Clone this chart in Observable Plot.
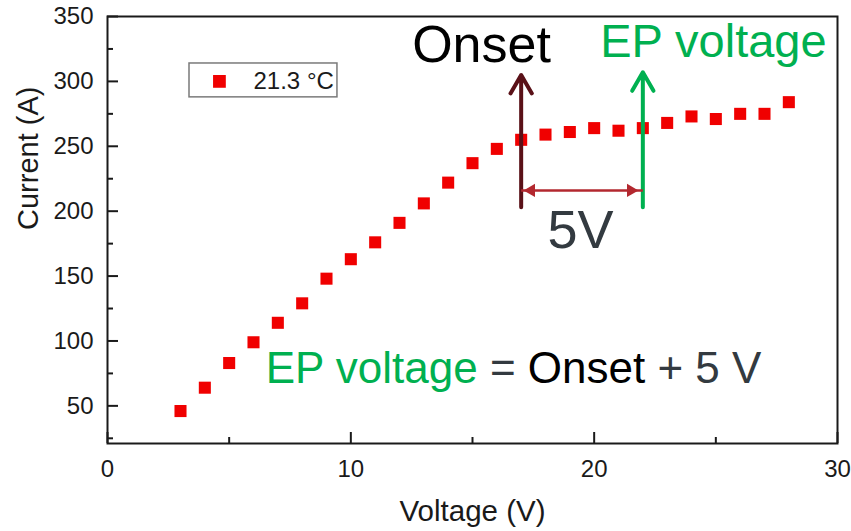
<!DOCTYPE html>
<html><head><meta charset="utf-8">
<script src="https://cdn.jsdelivr.net/npm/d3@7"></script>
<script src="https://cdn.jsdelivr.net/npm/@observablehq/plot@0.6"></script>
<style>
body{margin:0;background:#fff;}
#chart{width:851px;height:531px;}
</style></head><body><div id="chart"></div>
<script>
// ---- data ----
const voltage = [3,4,5,6,7,8,9,10,11,12,13,14,15,16,17,18,19,20,21,22,23,24,25,26,27,28];
const current = [46,64,83,99,114,129,148,163,176,191,206,222,237,248,255,259,261,264,262,264,268,273,271,275,275,284];
const seriesLabel = "21.3 °C";
const xMajorTicks = [0,10,20,30];
const xMinorTicks = [5,15,25];
const yMajorTicks = [50,100,150,200,250,300,350];
const yMinorTicks = [25,75,125,175,225,275,325];
const xLabel = "Voltage (V)";
const yLabel = "Current (A)";
const onsetVoltage = 17;
const epVoltage = 22;
const arrowFrom = [203, 203];
const arrowTo = [305, 307];
const spanLevel = 216;
const annotationText = ["Onset", "EP voltage", "5V"];
const annotationX = [15.37, 24.9, 19.44];
const annotationY = [314.6, 318.5, 172];
const equationText = "EP voltage = Onset + 5 V";
const equationParts = ["EP voltage", " = ", "Onset", " + 5 V"];
const equationPos = [6.5, 67.7];
const legendBox = [3.37, 9.45, 287.7, 313.8];
const legendMarker = [4.6, 300];
const legendTextX = 6.0;

// ---- styles ----
const FONT = "'Liberation Sans', Arial, sans-serif";
const GREEN = "#00b050", MAROON = "#5a1118", BRICK = "#b3282f", GRAY = "#333a40", INK = "#1a1a1a";

const points = voltage.map((v, i) => ({v, c: current[i]}));
const arrows = [
  {x: onsetVoltage, y1: arrowFrom[0], y2: arrowTo[0], color: MAROON},
  {x: epVoltage, y1: arrowFrom[1], y2: arrowTo[1], color: GREEN}
];
const annColors = ["#000000", GREEN, GRAY];
const annFont = [52, 47, 54];
const annotations = annotationText.map((t, i) => ({t, x: annotationX[i], y: annotationY[i], color: annColors[i], fs: annFont[i]}));

const W = 851, H = 531, mL = 107, mR = 14, mT = 16, mB = 88;
const fw = W - mL - mR, fh = H - mT - mB;

const chart = Plot.plot({
  width: W, height: H,
  marginLeft: mL, marginRight: mR, marginTop: mT, marginBottom: mB,
  style: {fontFamily: FONT, background: "#fff", overflow: "visible"},
  x: {domain: [0, 30], axis: null},
  y: {domain: [21, 350], axis: null},
  marks: [
    // ticks (inward)
    Plot.ruleX(xMajorTicks, {x: d => d, insetTop: fh - 11, stroke: INK, strokeWidth: 2}),
    Plot.ruleX(xMinorTicks, {x: d => d, insetTop: fh - 6, stroke: INK, strokeWidth: 2}),
    Plot.ruleY(yMajorTicks, {y: d => d, insetRight: fw - 11, stroke: INK, strokeWidth: 2}),
    Plot.ruleY(yMinorTicks, {y: d => d, insetRight: fw - 6, stroke: INK, strokeWidth: 2}),
    Plot.frame({stroke: INK, strokeWidth: 2}),
    // tick labels
    Plot.text(xMajorTicks, {x: d => d, frameAnchor: "bottom", dy: 16, lineAnchor: "top", fontSize: 24, fill: INK, text: d => String(d)}),
    Plot.text(yMajorTicks, {y: d => d, frameAnchor: "left", dx: -14, textAnchor: "end", lineAnchor: "middle", fontSize: 24, fill: INK, text: d => String(d)}),
    // axis labels
    Plot.text([xLabel], {frameAnchor: "bottom", dy: 57, lineAnchor: "top", fontSize: 29.5, fill: INK}),
    Plot.text([yLabel], {frameAnchor: "left", dx: -79, rotate: -90, lineAnchor: "middle", fontSize: 29, fill: INK}),
    // legend
    Plot.rect([legendBox], {x1: d => d[0], x2: d => d[1], y1: d => d[2], y2: d => d[3], fill: "none", stroke: "#7a7a7a", strokeWidth: 1.5}),
    Plot.dot([legendMarker], {x: d => d[0], y: d => d[1], symbol: "square", r: 7.2, fill: "#f00000", stroke: "none"}),
    Plot.text([seriesLabel], {x: legendTextX, y: legendMarker[1], textAnchor: "start", lineAnchor: "middle", fontSize: 24, fill: INK}),
    // data
    Plot.dot(points, {x: "v", y: "c", symbol: "square", r: 6.8, fill: "#f00000", stroke: "none"}),
    // annotation arrows
    Plot.arrow(arrows, {x1: "x", x2: "x", y1: "y1", y2: "y2", stroke: "color", strokeWidth: 4, headLength: 8, headAngle: 60}),
    Plot.link([{a: onsetVoltage, b: epVoltage}], {x1: "a", x2: "b", y1: spanLevel, y2: spanLevel, stroke: BRICK, strokeWidth: 2.5}),
    Plot.dot([onsetVoltage], {x: d => d, y: spanLevel, symbol: "triangle2", r: 6.3, rotate: -90, dx: 10, fill: BRICK, stroke: "none"}),
    Plot.dot([epVoltage], {x: d => d, y: spanLevel, symbol: "triangle2", r: 6.3, rotate: 90, dx: -12, fill: BRICK, stroke: "none"}),
    Plot.text(annotations, {x: "x", y: "y", text: "t", fill: "color", fontSize: "fs", lineAnchor: "bottom"}),
    Plot.text([equationText], {x: equationPos[0], y: equationPos[1], textAnchor: "start", lineAnchor: "bottom", fontSize: 44, fill: GRAY})
  ]
});
document.getElementById("chart").appendChild(chart);

// colour the parts of the equation
const eqColors = [GREEN, GRAY, "#000000", GRAY];
chart.querySelectorAll("text").forEach(t => {
  if (t.textContent === equationText) {
    t.textContent = "";
    equationParts.forEach((p, i) => {
      const ts = document.createElementNS("http://www.w3.org/2000/svg", "tspan");
      ts.setAttribute("fill", eqColors[i]);
      ts.textContent = p;
      t.appendChild(ts);
    });
    t.setAttribute("style", "white-space: pre");
  }
});
</script></body></html>
